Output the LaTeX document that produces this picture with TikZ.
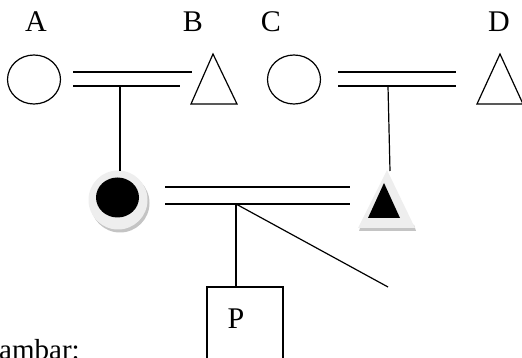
\documentclass[tikz,border=0pt]{standalone}
\usepackage{fontspec}
\setmainfont{Liberation Serif}
\usetikzlibrary{shapes.geometric}
\definecolor{ringgray}{HTML}{EEEEEE}
\definecolor{shadegray}{HTML}{C4C4C4}
\begin{document}
\begin{tikzpicture}[x=1pt,y=-1pt,
  lbl/.style={font=\fontsize{30}{32}\selectfont, inner sep=0pt},
  ln/.style={line width=1.2pt},
  person/.style={ellipse, draw, line width=1.2pt, minimum width=53pt, minimum height=49pt, inner sep=0pt},
  boxp/.style={draw, line width=1.2pt, minimum width=76pt, minimum height=90pt, inner sep=0pt}]
\useasboundingbox (0,0) rectangle (522,358);
\clip (0,0) rectangle (522,358);
\fill[white] (0,0) rectangle (522,358);

% labels
\node[lbl] (la) at (36,22) {A};
\node[lbl] (lb) at (193,22) {B};
\node[lbl] (lc) at (271,22) {C};
\node[lbl] (ld) at (499,22) {D};

% first generation
\node[person] (a) at (34,79.5) {};
\node[person] (c) at (294,79.5) {};
\draw[ln, line join=miter] (213,54) coordinate (b) -- (237,104) -- (191,104) -- cycle;
\draw[ln, line join=miter] (500,54) coordinate (d) -- (523,104) -- (477,104) -- cycle;

% marriage lines
\coordinate (ab1) at (73,72);   \coordinate (ab2) at (192,72);
\coordinate (ab3) at (73,86);   \coordinate (ab4) at (180,86);
\coordinate (cd1) at (338,72);  \coordinate (cd2) at (456,72);
\coordinate (cd3) at (338,86);  \coordinate (cd4) at (456,86);
\draw[ln] (ab1) -- (ab2);
\draw[ln] (ab3) -- (ab4);
\draw[ln] (cd1) -- (cd2);
\draw[ln] (cd3) -- (cd4);

% second generation: affected female
\fill[shadegray] (120,203) circle (29.5);
\fill[ringgray] (118,200) circle (29.5);
\node[ellipse, fill=black, minimum width=43pt, minimum height=40pt, inner sep=0pt] (e) at (117.5,197.5) {};
\coordinate (etop) at (120,171);

% second generation: affected male
\fill[shadegray] (361,225) -- (414,225) -- (416,231) -- (359,231) -- cycle;
\fill[ringgray] (387,170) -- (415,228) -- (358,228) -- cycle;
\fill[black] (384,183) coordinate (f) -- (400,218) -- (368,218) -- cycle;
\coordinate (ftop) at (390,171);

% descent lines
\coordinate (m1) at (120,86);
\coordinate (m2) at (388,86);
\draw[ln] (m1) -- (etop);
\draw[ln] (m2) -- (ftop);

% second marriage
\coordinate (ef1) at (165,187); \coordinate (ef2) at (350,187);
\coordinate (ef3) at (165,204); \coordinate (ef4) at (350,204);
\draw[ln] (ef1) -- (ef2);
\draw[ln] (ef3) -- (ef4);

% offspring
\coordinate (m3) at (236,204);
\node[boxp] (p) at (245,332) {};
\node[lbl] (pl) at (236,318.5) {P};
\coordinate (diagend) at (388,287);
\draw[ln] (m3) -- (m3 |- p.north);
\draw[ln] (m3) -- (diagend);

% caption fragment
\node[lbl, anchor=base west, font=\fontsize{29}{30}\selectfont] (cap) at (-1,359) {ambar:};
\end{tikzpicture}
\end{document}
